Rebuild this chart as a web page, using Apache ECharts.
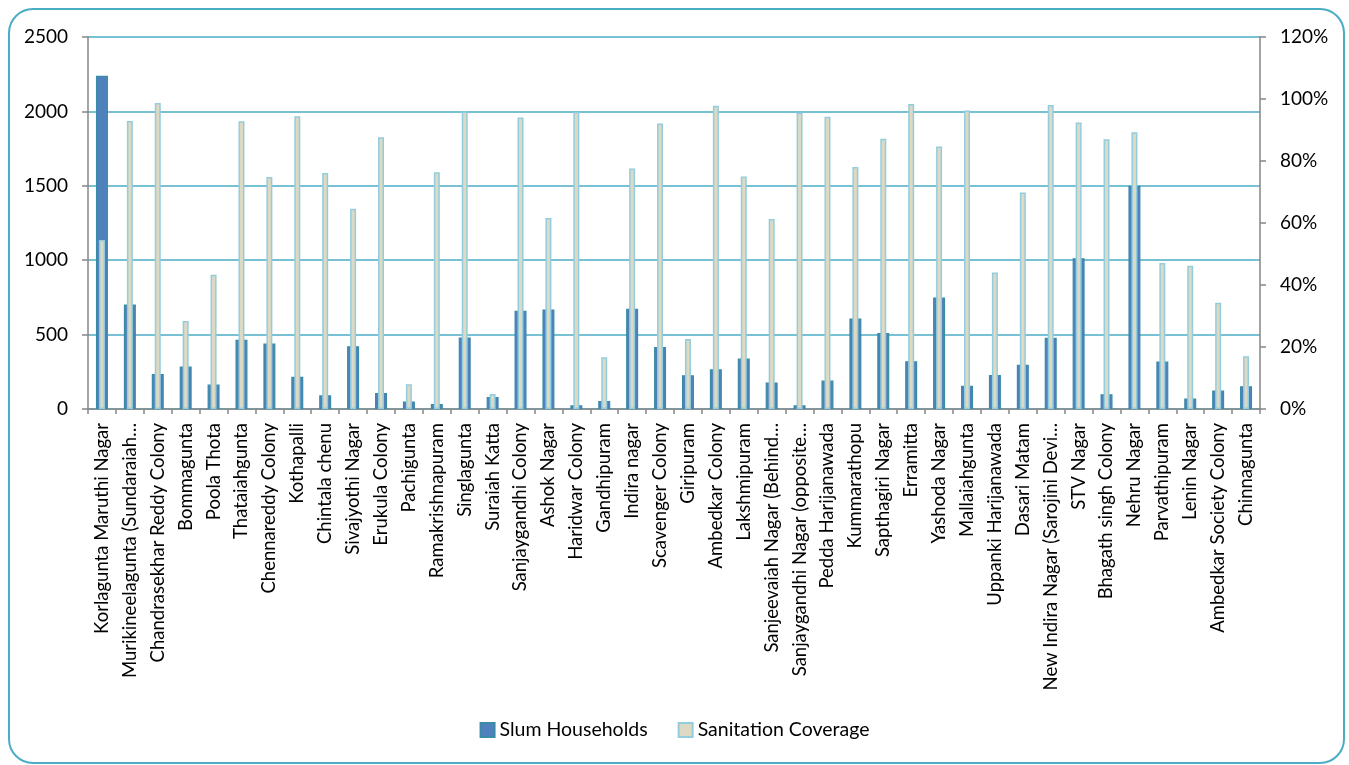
<!DOCTYPE html>
<html>
<head>
<meta charset="utf-8">
<title>Slum Households and Sanitation Coverage</title>
<script src="https://cdn.jsdelivr.net/npm/echarts@6/dist/echarts.min.js"></script>
<style>
  html, body { margin: 0; padding: 0; background: #ffffff; }
  #chart { width: 1349px; height: 765px; }
</style>
</head>
<body>
<div id="chart"></div>
<script>
// Slum areas (labels as printed under the axis)
const slums = [
  'Korlagunta Maruthi Nagar',
  'Murikineelagunta (Sundaraiah…',
  'Chandrasekhar Reddy Colony',
  'Bommagunta',
  'Poola Thota',
  'Thataiahgunta',
  'Chennareddy Colony',
  'Kothapalli',
  'Chintala chenu',
  'Sivajyothi Nagar',
  'Erukula Colony',
  'Pachigunta',
  'Ramakrishnapuram',
  'Singlagunta',
  'Suraiah Katta',
  'Sanjaygandhi Colony',
  'Ashok Nagar',
  'Haridwar Colony',
  'Gandhipuram',
  'Indira nagar',
  'Scavenger Colony',
  'Giripuram',
  'Ambedkar Colony',
  'Lakshmipuram',
  'Sanjeevaiah Nagar (Behind…',
  'Sanjaygandhi Nagar (opposite…',
  'Pedda Harijanawada',
  'Kummarathopu',
  'Sapthagiri Nagar',
  'Erramitta',
  'Yashoda Nagar',
  'Mallaiahgunta',
  'Uppanki Harijanawada',
  'Dasari Matam',
  'New Indira Nagar (Sarojini Devi…',
  'STV Nagar',
  'Bhagath singh Colony',
  'Nehru Nagar',
  'Parvathipuram',
  'Lenin Nagar',
  'Ambedkar Society Colony',
  'Chinnagunta'
];

// Number of slum households (left axis)
const slumHouseholds = [
  2240, 703, 236, 285, 164, 465, 440, 216, 92, 422,
  108, 50, 34, 481, 81, 660, 669, 25, 54, 673,
  416, 227, 267, 339, 178, 25, 191, 609, 510, 321,
  750, 157, 229, 297, 478, 1013, 99, 1500, 319, 70,
  124, 153
];

// Sanitation coverage in percent (right axis)
const sanitationCoverage = [
  54.5, 92.9, 98.7, 28.4, 43.3, 92.8, 74.8, 94.4, 76.1, 64.6,
  87.7, 8.0, 76.4, 96.0, 4.8, 94.0, 61.6, 95.8, 16.7, 77.6,
  92.1, 22.6, 97.8, 75.0, 61.3, 95.6, 94.3, 78.1, 87.2, 98.4,
  84.7, 96.3, 44.0, 69.8, 98.1, 92.4, 87.0, 89.3, 47.1, 46.2,
  34.3, 17.0
];

// Axis scales
const leftAxis = { min: 0, max: 2500, interval: 500 };
const rightAxis = { min: 0, max: 120, interval: 20 };

const FONT = 'Lato';
const axisGray = '#868686';
const teal = '#4BACC6';

const chart = echarts.init(document.getElementById('chart'), null, { renderer: 'canvas' });

chart.setOption({
  backgroundColor: '#ffffff',
  animation: false,
  textStyle: { fontFamily: FONT, color: '#000000' },
  graphic: [{
    type: 'rect',
    z: 100,
    silent: true,
    shape: { x: 9, y: 9, width: 1335, height: 754, r: 24 },
    style: { fill: 'none', stroke: teal, lineWidth: 2 }
  }],
  legend: {
    bottom: 20,
    left: 'center',
    itemWidth: 14,
    itemHeight: 14,
    itemGap: 30,
    textStyle: { fontFamily: FONT, fontSize: 19.5, color: '#000000' },
    data: [
      { name: 'Slum Households', icon: 'rect' },
      { name: 'Sanitation Coverage', icon: 'rect' }
    ]
  },
  grid: { left: 88, right: 89, top: 37, bottom: 356, containLabel: false },
  xAxis: [
    {
      type: 'category',
      data: slums,
      axisLine: { lineStyle: { color: axisGray, width: 1.5 } },
      axisTick: { show: true, length: 5, lineStyle: { color: axisGray, width: 1.5 } },
      axisLabel: {
        interval: 0,
        rotate: 90,
        margin: 14,
        fontFamily: FONT,
        fontSize: 18.5,
        color: '#000000'
      },
      splitLine: { show: false }
    },
    {
      type: 'category',
      data: slums,
      show: false
    }
  ],
  yAxis: [
    {
      type: 'value',
      min: leftAxis.min,
      max: leftAxis.max,
      interval: leftAxis.interval,
      position: 'left',
      axisLine: { show: true, lineStyle: { color: axisGray, width: 1.5 } },
      axisTick: { show: true, length: 6, lineStyle: { color: axisGray, width: 1.5 } },
      axisLabel: {
        margin: 20,
        fontFamily: FONT,
        fontSize: 19,
        color: '#000000',
        formatter: v => String(v)
      },
      splitLine: { show: true, lineStyle: { color: teal, width: 1.6 } }
    },
    {
      type: 'value',
      min: rightAxis.min,
      max: rightAxis.max,
      interval: rightAxis.interval,
      position: 'right',
      axisLine: { show: true, lineStyle: { color: axisGray, width: 1.5 } },
      axisTick: { show: true, length: 6, lineStyle: { color: axisGray, width: 1.5 } },
      axisLabel: {
        margin: 20,
        fontFamily: FONT,
        fontSize: 19,
        color: '#000000',
        formatter: v => v + '%'
      },
      splitLine: { show: false }
    }
  ],
  series: [
    {
      name: 'Slum Households',
      type: 'bar',
      xAxisIndex: 0,
      yAxisIndex: 0,
      barWidth: 12,
      data: slumHouseholds,
      itemStyle: { color: '#4F81BD', borderColor: '#3A8BA8', borderWidth: 1.2 },
      z: 2
    },
    {
      name: 'Sanitation Coverage',
      type: 'bar',
      xAxisIndex: 1,
      yAxisIndex: 1,
      barWidth: 6,
      data: sanitationCoverage,
      itemStyle: { color: '#DDD9C3', borderColor: '#93CDDD', borderWidth: 1.5 },
      z: 3
    }
  ]
});
</script>
</body>
</html>
